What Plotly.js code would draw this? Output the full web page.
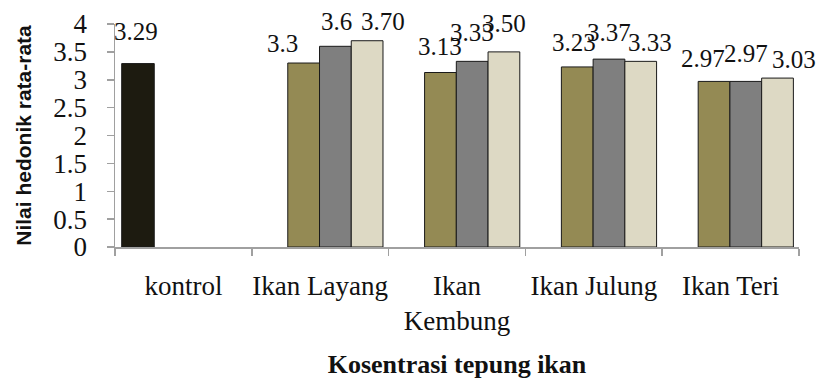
<!DOCTYPE html>
<html>
<head>
<meta charset="utf-8">
<script src="https://cdn.plot.ly/plotly-3.0.1.min.js"></script>
<style>html,body{margin:0;padding:0;background:#fff;}#chart{width:822px;height:383px;}</style>
</head>
<body>
<div id="chart"></div>
<script>
// ---- data ----
const categories = ['kontrol', 'Ikan Layang', 'Ikan Kembung', 'Ikan Julung', 'Ikan Teri'];
const tickLabels = ['kontrol', 'Ikan Layang', 'Ikan<br>Kembung', 'Ikan Julung', 'Ikan Teri'];
const kontrolValue = [3.29];
const seriesA = [3.30, 3.13, 3.23, 2.97];
const seriesB = [3.60, 3.33, 3.37, 2.97];
const seriesC = [3.70, 3.50, 3.33, 3.03];
const kontrolLabel = ['3.29'];
const labelsA = ['3.3', '3.13', '3.23', '2.97'];
const labelsB = ['3.6', '3.33', '3.37', '2.97'];
const labelsC = ['3.70', '3.50', '3.33', '3.03'];
const yTicks = [0, 0.5, 1, 1.5, 2, 2.5, 3, 3.5, 4];
const yTickText = ['0', '0.5', '1', '1.5', '2', '2.5', '3', '3.5', '4'];

// ---- style ----
const serif = 'Liberation Serif';
const sans = 'Liberation Sans';
const colK = '#1d1b10', colA = '#948a54', colB = '#7f7f7f', colC = '#ddd9c4';
const kOffset = -0.451, kWidth = 0.238;
const sWidth = 0.232;
const sOffsets = [-0.237, -0.005, 0.227];
// manual label nudges (px), mirroring the hand-placed labels of the original
const kDx = [-2], kDy = [32];
const dxA = [-21, 0, -3, -11], dyA = [20, 26, 24, 23];
const dxB = [1, 0, 0, 0], dyB = [25, 29, 27, 28];
const dxC = [16, 0, 9, 16], dyC = [19, 28, 19, 19];

const others = categories.slice(1);
const line = {color: '#1a1a1a', width: 1};

const traces = [
  {type: 'bar', name: 'Kontrol', x: [categories[0]], y: kontrolValue, offset: kOffset, width: kWidth,
   marker: {color: colK, line: line}},
  {type: 'bar', name: 'Seri 1', x: others, y: seriesA, offset: sOffsets[0], width: sWidth,
   marker: {color: colA, line: line}},
  {type: 'bar', name: 'Seri 2', x: others, y: seriesB, offset: sOffsets[1], width: sWidth,
   marker: {color: colB, line: line}},
  {type: 'bar', name: 'Seri 3', x: others, y: seriesC, offset: sOffsets[2], width: sWidth,
   marker: {color: colC, line: line}}
];

const annotations = [];
function addLabels(startIdx, vals, texts, off, w, dx, dy) {
  vals.forEach((v, i) => {
    annotations.push({
      xref: 'x', yref: 'y', x: startIdx + i + off + w / 2, y: v,
      text: texts[i], showarrow: false, xanchor: 'center', yanchor: 'middle',
      xshift: dx[i], yshift: dy[i],
      font: {family: serif, size: 25, color: '#111'}
    });
  });
}
addLabels(0, kontrolValue, kontrolLabel, kOffset, kWidth, kDx, kDy);
addLabels(1, seriesA, labelsA, sOffsets[0], sWidth, dxA, dyA);
addLabels(1, seriesB, labelsB, sOffsets[1], sWidth, dxB, dyB);
addLabels(1, seriesC, labelsC, sOffsets[2], sWidth, dxC, dyC);

const layout = {
  width: 822, height: 383,
  margin: {l: 115, r: 23, t: 24, b: 136, pad: 0},
  paper_bgcolor: '#fff', plot_bgcolor: '#fff',
  barmode: 'overlay',
  showlegend: false,
  font: {family: serif, size: 26, color: '#111'},
  xaxis: {
    type: 'category', categoryorder: 'array', categoryarray: categories,
    tickvals: categories, ticktext: tickLabels, tickangle: 0,
    range: [-0.5, categories.length - 0.5],
    showline: true, linecolor: '#a0a0a0', linewidth: 1.5,
    ticks: 'outside', tickson: 'boundaries', ticklen: 7, tickcolor: '#a0a0a0', tickwidth: 1.5,
    showgrid: false, zeroline: false,
    tickfont: {family: serif, size: 27, color: '#111'},
    ticklabelstandoff: 14,
    title: {text: 'Kosentrasi tepung ikan', font: {family: serif, size: 26, weight: 'bold', color: '#111'}, standoff: 20}
  },
  yaxis: {
    range: [0, 4], tickvals: yTicks, ticktext: yTickText,
    showline: true, linecolor: '#a0a0a0', linewidth: 1.5,
    ticks: 'outside', ticklen: 7, tickcolor: '#a0a0a0', tickwidth: 1.5,
    showgrid: false, zeroline: false,
    tickfont: {family: serif, size: 27, color: '#111'},
    ticklabelstandoff: 14,
    title: {text: 'Nilai hedonik rata-rata', font: {family: sans, size: 21, weight: 'bold', color: '#111'}, standoff: 16}
  },
  annotations: annotations
};

Plotly.newPlot('chart', traces, layout, {displayModeBar: false, staticPlot: true});
</script>
</body>
</html>
